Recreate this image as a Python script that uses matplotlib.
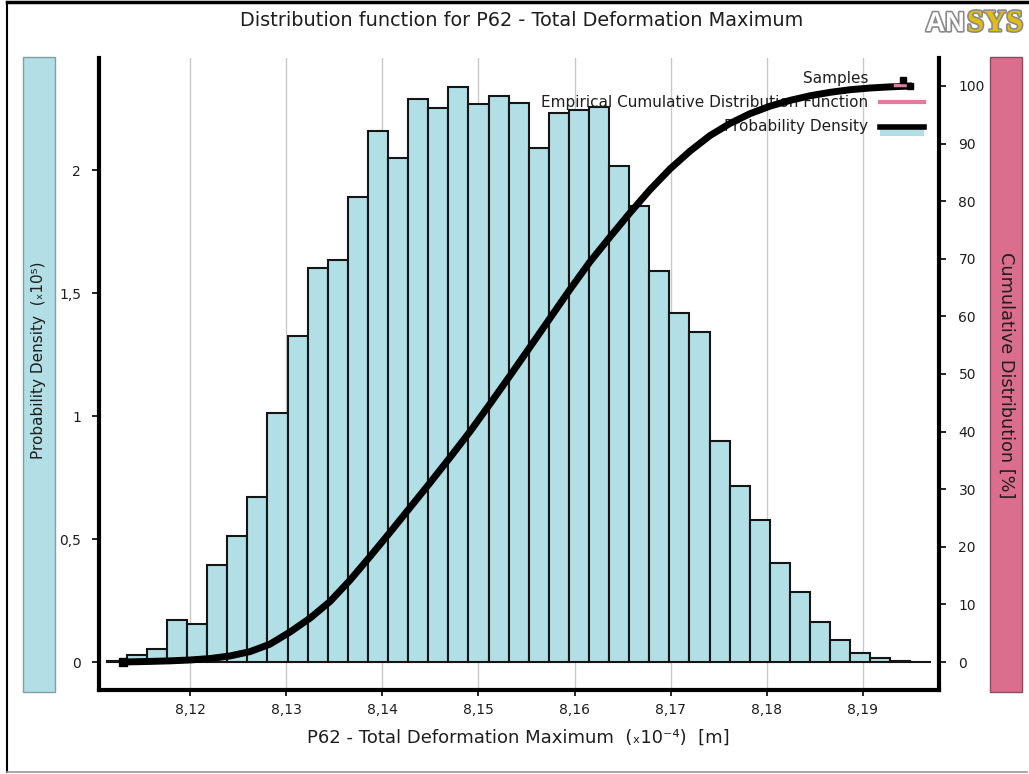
import matplotlib
matplotlib.use("Agg")
import matplotlib.pyplot as plt
import matplotlib.patheffects as pe
from matplotlib.lines import Line2D
from matplotlib.patches import Rectangle
import numpy as np

W, H = 1029, 774

# Histogram of the sampled output: density in units of 1e5 per metre
bin_start = 8.11134
bin_width = 0.00209
density = [0.004, 0.028, 0.052, 0.171, 0.153, 0.394, 0.513, 0.669, 1.011, 1.325,
           1.600, 1.634, 1.889, 2.160, 2.050, 2.289, 2.253, 2.339, 2.267, 2.301,
           2.274, 2.088, 2.233, 2.244, 2.258, 2.016, 1.854, 1.591, 1.420, 1.340,
           0.900, 0.715, 0.577, 0.404, 0.286, 0.161, 0.089, 0.038, 0.017, 0.003,
           0.002]

# Empirical cumulative distribution of the samples (%)
cdf_x = [8.11303, 8.11584, 8.11792, 8.12000, 8.12208, 8.12416, 8.12624, 8.12832,
         8.13040, 8.13248, 8.13456, 8.13664, 8.13872, 8.14080, 8.14288, 8.14496,
         8.14704, 8.14912, 8.15120, 8.15328, 8.15537, 8.15745, 8.15953, 8.16161,
         8.16369, 8.16577, 8.16785, 8.16993, 8.17201, 8.17409, 8.17617, 8.17825,
         8.18033, 8.18241, 8.18449, 8.18657, 8.18865, 8.19073, 8.19281, 8.19510]
cdf_pct = [0.0, 0.1, 0.2, 0.35, 0.6, 1.05, 1.8, 3.1,
           5.2, 7.6, 10.5, 14.2, 18.3, 22.5, 26.8, 31.1,
           35.5, 40.0, 44.8, 49.7, 54.7, 59.7, 64.7, 69.5,
           73.8, 78.0, 82.0, 85.6, 88.7, 91.4, 93.5, 95.2,
           96.5, 97.5, 98.3, 98.9, 99.35, 99.65, 99.85, 100.0]

x_ticks = [8.12, 8.13, 8.14, 8.15, 8.16, 8.17, 8.18, 8.19]
x_tick_labels = ["8,12", "8,13", "8,14", "8,15", "8,16", "8,17", "8,18", "8,19"]
pdf_ticks = [0, 0.5, 1, 1.5, 2]
pdf_tick_labels = ["0", "0,5", "1", "1,5", "2"]
cdf_ticks = [0, 10, 20, 30, 40, 50, 60, 70, 80, 90, 100]

BLUE = "#b1dfe5"
PINK = "#db6e8d"
TEXT = "#1e1e1e"


def fx(px):
    return px / W


def fy(py):
    return 1 - py / H


fig = plt.figure(figsize=(W / 100, H / 100), dpi=100)
fig.patch.set_facecolor("white")

ax = fig.add_axes([fx(99), fy(690), (939 - 99) / W, (690 - 58) / H])
ax2 = ax.twinx()

edges = bin_start + bin_width * np.arange(len(density))
ax.bar(edges, density, width=bin_width, align="edge", color=BLUE,
       edgecolor="#151515", linewidth=1.5, zorder=2)

ax.set_xlim(8.110535, 8.197905)
ax.set_ylim(-0.1138, 2.4553)
ax2.set_ylim(-4.861, 104.86)

ax.set_axisbelow(True)
ax.grid(axis="x", color="#c9c9c9", linewidth=1.0)
ax.set_xticks(x_ticks)
ax.set_xticklabels(x_tick_labels)
ax.set_yticks(pdf_ticks)
ax.set_yticklabels(pdf_tick_labels)
ax2.set_yticks(cdf_ticks)
ax2.set_yticklabels([str(t) for t in cdf_ticks])

for a in (ax, ax2):
    a.spines["top"].set_visible(False)
ax.spines["right"].set_visible(False)
ax2.spines["left"].set_visible(False)
ax2.spines["bottom"].set_visible(False)
ax.spines["left"].set_linewidth(3)
ax.spines["bottom"].set_linewidth(3)
ax2.spines["right"].set_linewidth(3)

ax.tick_params(axis="x", direction="out", length=4, width=1.2, labelsize=10,
               labelcolor=TEXT, pad=5)
ax.tick_params(axis="y", direction="out", length=5, width=1.2, labelsize=10,
               labelcolor=TEXT, pad=8)
ax2.tick_params(axis="y", direction="out", length=5, width=1.2, labelsize=10,
                labelcolor=TEXT, pad=9)

# Sample-based cumulative curve
ax2.plot(cdf_x, cdf_pct, color="black", linewidth=5,
         solid_joinstyle="round", solid_capstyle="butt", zorder=6)
ax2.plot(cdf_x[:1], cdf_pct[:1], marker="s", markersize=6, color="black",
         zorder=6)

# Legend, drawn under the curve but above the bars
leg_kw = dict(transform=fig.transFigure, ha="right", va="center",
              fontsize=11, color=TEXT, zorder=4)
ax2.text(fx(868), fy(78), "Samples", **leg_kw)
ax2.text(fx(868), fy(102), "Empirical Cumulative Distribution Function", **leg_kw)
ax2.text(fx(868), fy(126), "Probability Density", **leg_kw)

ax2.add_line(Line2D([fx(895), fx(912)], [fy(85), fy(85)], transform=fig.transFigure,
                    color="#e07c9c", linewidth=2.5, zorder=7))
ax2.add_line(Line2D([fx(903), fx(910)], [fy(80), fy(86)], transform=fig.transFigure,
                    linestyle="none", marker="s", markersize=4.5, color="black",
                    zorder=7))
ax2.add_line(Line2D([fx(880), fx(924)], [fy(102), fy(102)], transform=fig.transFigure,
                    color="#e07c9c", linewidth=3, zorder=7))
ax2.add_patch(Rectangle((fx(880), fy(136)), fx(44), 10 / H, transform=fig.transFigure,
                        facecolor=BLUE, edgecolor="none", zorder=6))
ax2.add_line(Line2D([fx(880), fx(924)], [fy(127), fy(127)], transform=fig.transFigure,
                    color="black", linewidth=4, zorder=7))

# Side bars carrying the axis titles
fig.patches.append(Rectangle((fx(23), fy(692)), fx(32), 635 / H, transform=fig.transFigure,
                             facecolor=BLUE, edgecolor="#7f9fa3", linewidth=1))
fig.patches.append(Rectangle((fx(990), fy(692)), fx(32), 635 / H, transform=fig.transFigure,
                             facecolor=PINK, edgecolor="#8c4b5e", linewidth=1))
fig.text(fx(39), fy(360), "Probability Density  (\u209310\u2075)", rotation=90,
         ha="center", va="center", fontsize=11, color=TEXT)
fig.text(fx(1006), fy(375), "Cumulative Distribution [%]", rotation=270,
         ha="center", va="center", fontsize=12.8, color=TEXT)

fig.text(fx(518), fy(738), "P62 - Total Deformation Maximum  (\u209310\u207b\u2074)  [m]",
         ha="center", va="center", fontsize=13, color=TEXT)
fig.text(fx(522), fy(20), "Distribution function for P62 - Total Deformation Maximum",
         ha="center", va="center", fontsize=13.9, color=TEXT)

# Logo
stroke = [pe.withStroke(linewidth=2.4, foreground="#8a8a8a")]
fig.text(fx(965), fy(31), "AN", ha="right", va="baseline", fontsize=19.5,
         fontweight="bold", family="Liberation Sans", color="white",
         path_effects=stroke)
fig.text(fx(967), fy(31), "SYS", ha="left", va="baseline", fontsize=22,
         fontweight="bold", family="Liberation Serif", color="#e2bd12",
         path_effects=stroke)

# Outer frame
frame = [([fx(7), fx(7)], [fy(2), fy(772)], "black", 1.5),
         ([fx(7), 1.0], [fy(2), fy(2)], "black", 2.5),
         ([fx(7), fx(1027)], [fy(772), fy(772)], "#9a9a9a", 1.2)]
for xs, ys, c, lw in frame:
    fig.lines.append(Line2D(xs, ys, transform=fig.transFigure, color=c, linewidth=lw))

fig.savefig("out.png", dpi=100, facecolor="white")
